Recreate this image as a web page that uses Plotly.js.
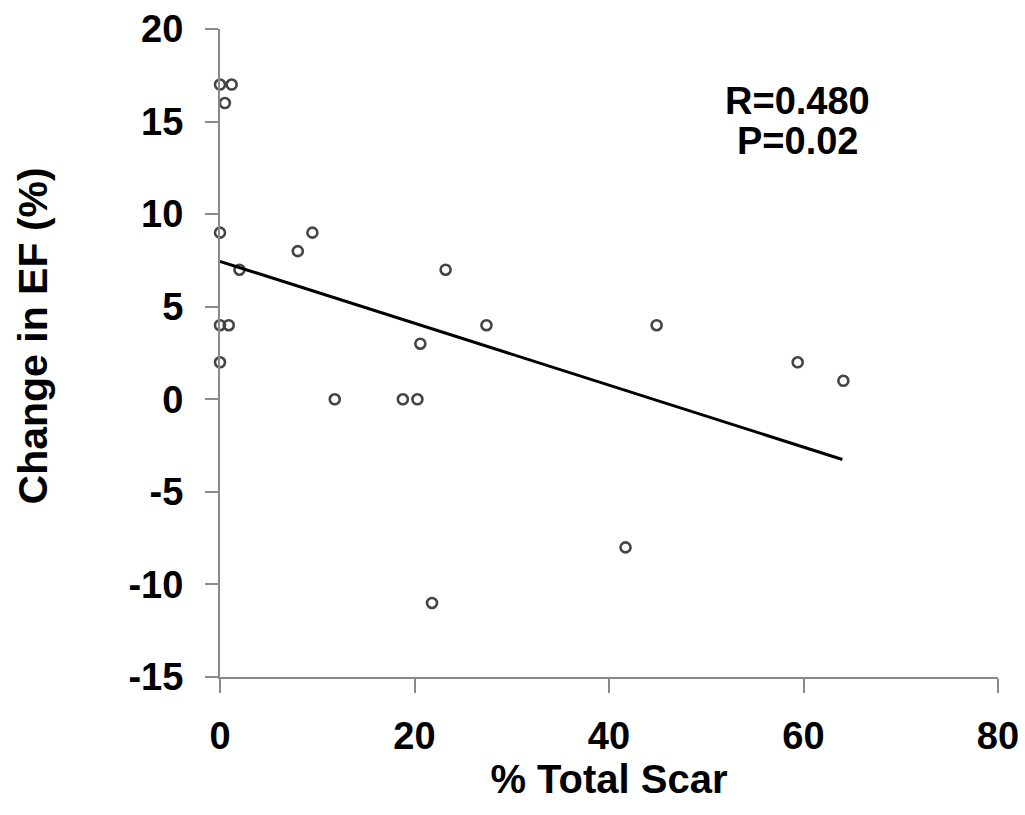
<!DOCTYPE html>
<html>
<head>
<meta charset="utf-8">
<script src="https://cdn.plot.ly/plotly-3.0.1.min.js"></script>
<style>html,body{margin:0;padding:0;background:#fff;}#chart{width:1025px;height:815px;}</style>
</head>
<body>
<div id="chart"></div>
<script>
// % Total Scar vs Change in EF (%)
const scarPct = [0, 1.2, 0.5, 0, 2, 0, 0.9, 0, 8, 9.5, 11.8, 18.8, 20.3, 20.6, 23.2, 27.4, 21.8, 41.7, 44.9, 59.4, 64.1];
const efChange = [17, 17, 16, 9, 7, 4, 4, 2, 8, 9, 0, 0, 0, 3, 7, 4, -11, -8, 4, 2, 1];
// regression line endpoints
const fitX = [0, 64];
const fitY = [7.45, -3.25];
const xTicks = [0, 20, 40, 60, 80];
const yTicks = [-15, -10, -5, 0, 5, 10, 15, 20];
const statLines = ["R=0.480", "P=0.02"];

const FONT = "Liberation Sans, Arial, Helvetica, sans-serif";

const traces = [
  {
    x: scarPct, y: efChange, type: "scatter", mode: "markers",
    marker: {symbol: "circle-open", size: 10, color: "#454545", line: {width: 2.6, color: "#454545"}},
    cliponaxis: false, showlegend: false, hoverinfo: "x+y"
  },
  {
    x: fitX, y: fitY, type: "scatter", mode: "lines",
    line: {color: "#000", width: 3}, cliponaxis: false, showlegend: false
  }
];

const layout = {
  width: 1025, height: 815,
  margin: {l: 220, r: 27, t: 29, b: 138},
  paper_bgcolor: "#fff", plot_bgcolor: "#fff",
  font: {family: FONT, color: "#000"},
  xaxis: {
    range: [0, 80], tickvals: xTicks, ticktext: xTicks.map(String),
    showgrid: false, zeroline: false, showline: true, linecolor: "#8a8a8a", linewidth: 2,
    ticks: "outside", ticklen: 14, tickwidth: 2, tickcolor: "#8a8a8a",
    tickfont: {family: FONT, size: 38, color: "#000", weight: "bold"},
    ticklabelstandoff: 10,
    title: {text: "<b>% Total Scar</b>", font: {family: FONT, size: 40, color: "#000"}, standoff: 4},
    automargin: false
  },
  yaxis: {
    range: [-15, 20], tickvals: yTicks, ticktext: yTicks.map(String),
    showgrid: false, zeroline: false, showline: true, linecolor: "#8a8a8a", linewidth: 2,
    ticks: "outside", ticklen: 13, tickwidth: 2, tickcolor: "#8a8a8a",
    tickfont: {family: FONT, size: 38, color: "#000", weight: "bold"},
    ticklabelstandoff: 14,
    title: {text: "&nbsp;&nbsp;&nbsp;<b>Change in EF (%)</b>", font: {family: FONT, size: 41, color: "#000"}, standoff: 68},
    automargin: false
  },
  annotations: [
    {x: 59.4, y: 16.1, xref: "x", yref: "y", text: "<b>" + statLines[0] + "</b>", showarrow: false,
     font: {family: FONT, size: 38, color: "#000"}, xanchor: "center", yanchor: "middle"},
    {x: 59.4, y: 13.95, xref: "x", yref: "y", text: "<b>" + statLines[1] + "</b>", showarrow: false,
     font: {family: FONT, size: 38, color: "#000"}, xanchor: "center", yanchor: "middle"}
  ]
};

Plotly.newPlot("chart", traces, layout, {displayModeBar: false, staticPlot: true});
</script>
</body>
</html>
